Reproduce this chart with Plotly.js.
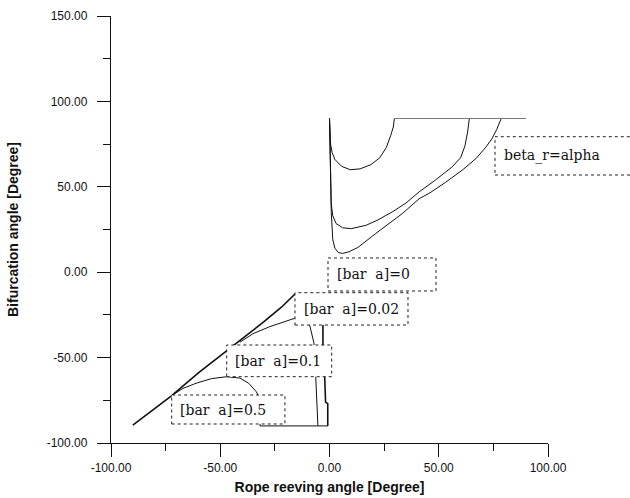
<!DOCTYPE html>
<html>
<head>
<meta charset="utf-8">
<script src="https://cdn.plot.ly/plotly-3.0.1.min.js"></script>
<style>html,body{margin:0;padding:0;background:#fff;}#chart{width:630px;height:498px;}</style>
</head>
<body>
<div id="chart"></div>
<script>
// ---- upper family (beta_r > 0) ----
const curveA_x = [0, 0.2, 0.5, 1.2, 2.5, 5.5, 9.5, 14, 19, 23, 26, 28, 29.2, 29.7];
const curveA_y = [90, 80, 75, 70, 66, 62, 60, 60.5, 63, 67, 73, 80, 85, 90];
const curveB_x = [0, 0.3, 0.8, 1.5, 3, 6, 10, 16.8, 22, 29, 35, 41, 48, 56, 60, 62, 63.2, 64];
const curveB_y = [90, 60, 40, 33, 28.5, 26, 25.5, 27.5, 30.5, 35.5, 40.5, 47, 53.5, 61.5, 67, 74, 82, 90];
const curveC_x = [0, 0.3, 0.8, 1.5, 2.5, 4, 6, 9, 13, 21, 27, 33.5, 41, 46, 53, 61, 67, 71.7, 74.5, 76.5, 78.6];
const curveC_y = [90, 60, 35, 19, 14, 11.5, 11, 12, 14.5, 22.5, 28.5, 34.5, 43, 46.5, 52.5, 60, 66.5, 73.4, 78.5, 83.5, 90];
const capX = [29.7, 90];
const capY = [90, 90];

// ---- lower family (beta_r < 0) ----
const diagX = [-90, -72.5, -60, -47.3, -38, -30, -22, -16, -5, -3, -3, -2.2, -1.8, -0.8, -0.8];
const diagY = [-89.5, -72.5, -59, -46, -37, -29, -20.5, -13, -20, -31, -42.6, -61.2, -76, -77, -90];
const lowX = [-41, -35, -27.4, -21, -16, -11, -9.1, -7.2, -6.5, -6.3, -5.3];
const lowY = [-41, -36, -31.9, -29, -27, -28, -30.9, -41, -50, -61.2, -90];
const halfX = [-72.5, -67, -61, -54, -47, -41, -37, -33.5, -32.5, -32, -31.8, -0.8];
const halfY = [-72.5, -68, -65, -62.3, -61.2, -62, -65, -70, -72.5, -80, -90, -90];

// ---- axes ----
const xTickVals = [-100, -50, 0, 50, 100];
const xTickText = ['-100.00', '-50.00', '0.00', '50.00', '100.00'];
const xMinorVals = [-75, -25, 25, 75];
const yTickVals = [-100, -50, 0, 50, 100, 150];
const yTickText = ['-100.00', '-50.00', '0.00', '50.00', '100.00', '150.00'];
const yMinorVals = [-75, -25, 25, 75, 125];

// ---- labels ----
const labelTexts = ['[bar&#160;&#160;a]=0', '[bar&#160;&#160;a]=0.02', '[bar&#160;&#160;a]=0.1', '[bar&#160;&#160;a]=0.5', 'beta_r=alpha'];

const ln = (x, y, w, c) => ({x: x, y: y, type: 'scatter', mode: 'lines',
  line: {color: c || '#111', width: w || 1}, hoverinfo: 'skip'});

const data = [
  ln(curveA_x, curveA_y), ln(curveB_x, curveB_y), ln(curveC_x, curveC_y), ln(capX, capY, 1, '#777'),
  ln(diagX, diagY, 1.6), ln(lowX, lowY), ln(halfX, halfY)
];

// label boxes in paper coordinates [x0, x1, y0, y1]
const boxes = [
  [0.4966, 0.7437, 0.356, 0.4333],
  [0.421, 0.6796, 0.2763, 0.352],
  [0.2648, 0.505, 0.1553, 0.2295],
  [0.1389, 0.398, 0.0445, 0.1124],
  [0.8787, 1.25, 0.6276, 0.7173]
];
const shapes = boxes.map(b => ({type: 'rect', xref: 'paper', yref: 'paper',
  x0: b[0], x1: b[1], y0: b[2], y1: b[3], layer: 'above',
  fillcolor: 'white', line: {color: '#222', width: 1, dash: '3px,3px'}}));
const annotations = boxes.map((b, i) => ({xref: 'paper', yref: 'paper',
  x: b[0] + 0.015, y: (b[2] + b[3]) / 2, xanchor: 'left', yanchor: 'middle',
  text: labelTexts[i], showarrow: false,
  font: {family: 'DejaVu Serif, Liberation Serif, serif', size: 14, color: '#111'}}));

const axisCommon = {
  ticks: 'outside', ticklen: 13, tickwidth: 1, tickcolor: '#111',
  showline: true, linecolor: '#111', linewidth: 1.2, showgrid: false, zeroline: false,
  tickfont: {family: 'Liberation Sans, Arial, sans-serif', size: 12, color: '#111'},
  tickmode: 'array'
};

const layout = {
  width: 630, height: 498,
  margin: {l: 111, r: 82, t: 16, b: 55},
  paper_bgcolor: 'white', plot_bgcolor: 'white',
  showlegend: false,
  font: {family: 'Liberation Sans, Arial, sans-serif', color: '#111'},
  xaxis: Object.assign({}, axisCommon, {
    range: [-100, 100], tickvals: xTickVals, ticktext: xTickText,
    minor: {tickvals: xMinorVals, ticks: 'outside', ticklen: 7, tickcolor: '#111', showgrid: false},
    title: {text: 'Rope reeving angle [Degree]', standoff: 8,
      font: {family: 'Liberation Sans, Arial, sans-serif', size: 14, weight: 'bold', color: '#111'}}
  }),
  yaxis: Object.assign({}, axisCommon, {
    range: [-100, 150], tickvals: yTickVals, ticktext: yTickText, ticklabelstandoff: 7,
    minor: {tickvals: yMinorVals, ticks: 'outside', ticklen: 7, tickcolor: '#111', showgrid: false},
    title: {text: 'Bifurcation angle [Degree]', standoff: 24,
      font: {family: 'Liberation Sans, Arial, sans-serif', size: 14, weight: 'bold', color: '#111'}}
  }),
  shapes: shapes,
  annotations: annotations
};

Plotly.newPlot('chart', data, layout, {displayModeBar: false, staticPlot: true});
</script>
</body>
</html>
